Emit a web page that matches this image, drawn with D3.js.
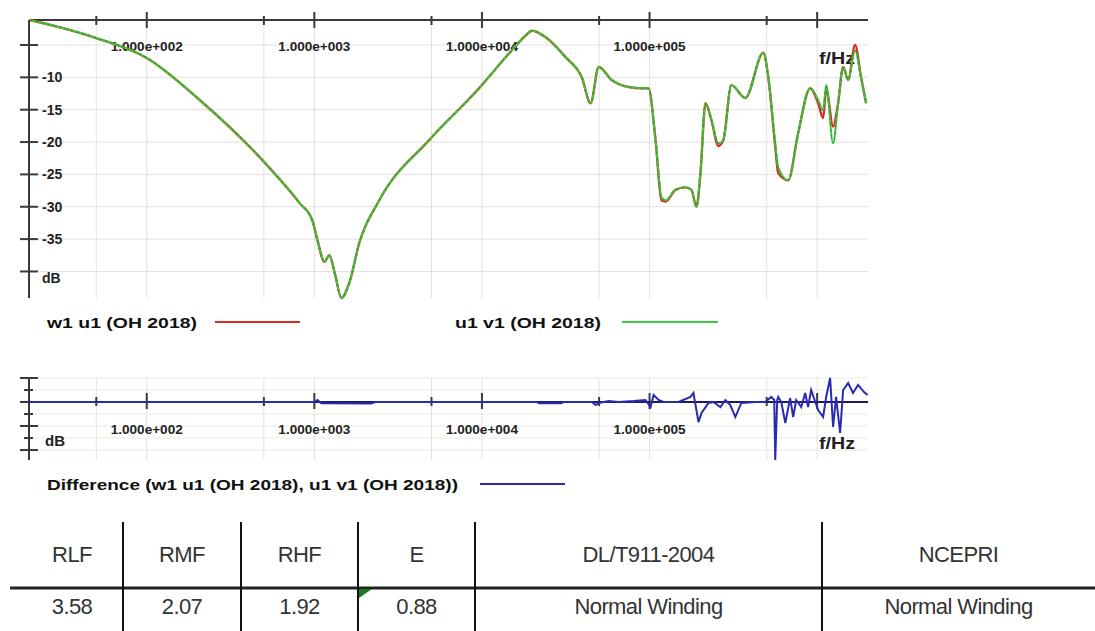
<!DOCTYPE html>
<html><head><meta charset="utf-8">
<script src="https://cdn.jsdelivr.net/npm/d3@7"></script>
<style>body{margin:0;background:#fff}svg{display:block}</style>
</head><body><svg id="c" width="1095" height="631"></svg>
<script>
// ---------- data ----------
const freqHz = [20,30,50,100,207,490,815,973,1044,1148,1228,1333,1449,1615,1853,2440,4840,9600,15100,18300,19900,24000,31600,39400,44500,49700,59400,75000,89600,98600,108600,117800,124500,142800,163800,177800,190500,201300,215600,234000,257500,275600,307600,372600,477200,511100,562300,585900,671800,770500,908400,1014000,1086000,1132000,1245000,1334000,1429000,1531000,1684000,1828000,1959000];
const u1v1 = [-1.14,-2.23,-3.93,-7.0,-13.5,-22.8,-29.4,-32.1,-35.2,-38.5,-37.5,-40.6,-44.1,-41.8,-35.6,-29.0,-19.7,-11.7,-5.8,-3.5,-2.8,-3.8,-6.9,-10.0,-14.0,-8.4,-10.4,-11.5,-11.7,-11.7,-19.7,-28.5,-29.0,-27.4,-27.0,-27.4,-30.0,-24.8,-14.0,-16.6,-20.2,-19.7,-11.2,-13.2,-6.2,-10.0,-20.2,-23.9,-25.9,-18.6,-11.7,-13.5,-15.1,-11.2,-20.2,-14.0,-8.4,-10.4,-5.8,-10.0,-14.0];
const w1u1 = [-1.14,-2.23,-3.93,-7.0,-13.5,-22.8,-29.4,-32.1,-35.2,-38.5,-37.5,-40.6,-44.1,-41.8,-35.6,-29.0,-19.7,-11.7,-5.8,-3.5,-2.8,-3.8,-6.9,-10.0,-14.0,-8.4,-10.4,-11.5,-11.7,-11.7,-19.7,-29.0,-29.2,-27.4,-27.0,-27.4,-30.0,-24.8,-14.0,-16.6,-20.6,-19.7,-11.2,-13.2,-6.2,-10.0,-20.7,-24.8,-25.9,-18.6,-11.7,-14.0,-16.3,-11.8,-17.6,-14.0,-8.4,-10.4,-5.0,-10.0,-14.0];
const diffFreq = [20,1000,1042,1101,2183,2306,21230,21830,29510,30760,43350,45190,47720,49700,57020,65340,80350,94660,101400,105700,113200,121200,148800,175400,182800,195900,204200,224600,240400,264800,283400,303400,325000,353000,427900,490000,532000,554500,562300,577800,585900,610900,645700,690200,719400,749900,803500,848700,883300,920700,1014000,1086000,1132000,1195000,1245000,1297000,1371000,1429000,1531000,1637000,1754000,1905000,2000000];
const diffDb = [0,0,0.17,-0.1,-0.12,0,0,-0.1,-0.1,0,0,0,-0.25,-0.08,0.08,0,0.08,0.17,-0.42,0.58,0.17,0,0,0.42,0.75,-1.67,-0.92,-0.08,0,-0.42,0.17,-0.25,-1.25,-0.08,0,0,0.42,0.17,-4.83,0.17,0.42,0,-1.75,0.33,-1.25,0.17,-0.42,0.75,-0.42,1.0,-0.67,-1.25,0.42,2.0,-2.08,0.42,-2.58,1.0,1.58,0.75,1.42,0.83,0.58];

const majorTicks = [1e2,1e3,1e4,1e5,1e6];
const majorLabels = ["1.000e+002","1.000e+003","1.000e+004","1.000e+005",""];
const minorTicks = [5e1,5e2,5e3,5e4,5e5];
const dbTicks = [-5,-10,-15,-20,-25,-30,-35,-40];
const dbLabels = ["","-10","-15","-20","-25","-30","-35","dB"];
const diffTicks = [2,1,0,-1,-2,-3,-4];
const seriesNames = ["w1 u1 (OH 2018)","u1 v1 (OH 2018)"];
const diffName = "Difference (w1 u1 (OH 2018), u1 v1 (OH 2018))";
const tableHeaders = ["RLF","RMF","RHF","E","DL/T911-2004","NCEPRI"];
const tableValues = ["3.58","2.07","1.92","0.88","Normal Winding","Normal Winding"];

// ---------- drawing ----------
const svg = d3.select("#c");
const FONT = "'Liberation Sans', Arial, sans-serif";
const x = d3.scaleLog().domain([20, 2e6]).range([29.6, 867.6]);
const y = d3.scaleLinear().domain([-1.14, -44.1]).range([20, 298]);
const yd = d3.scaleLinear().domain([2, -4.83]).range([378, 460]);
const gridX = majorTicks.concat(minorTicks);
const axisCol = "#3a3a3a", gridCol = "#e2e2e2";

// ===== top chart =====
const topG = svg.append("g");
topG.selectAll(".vg").data(gridX).join("line")
  .attr("x1", d=>x(d)).attr("x2", d=>x(d)).attr("y1", 20).attr("y2", 298)
  .attr("stroke", gridCol).attr("stroke-width", 1);
topG.selectAll(".hg").data(dbTicks).join("line")
  .attr("x1", 29).attr("x2", 868).attr("y1", d=>y(d)).attr("y2", d=>y(d))
  .attr("stroke", gridCol).attr("stroke-width", 1);
topG.append("line").attr("x1", 29).attr("x2", 868).attr("y1", 20).attr("y2", 20).attr("stroke", axisCol).attr("stroke-width", 2);
topG.append("line").attr("x1", 29).attr("x2", 29).attr("y1", 20).attr("y2", 298).attr("stroke", axisCol).attr("stroke-width", 2);
topG.selectAll(".mt").data(majorTicks).join("line")
  .attr("x1", d=>x(d)).attr("x2", d=>x(d)).attr("y1", 12).attr("y2", 28).attr("stroke", axisCol).attr("stroke-width", 2);
topG.selectAll(".nt").data(minorTicks).join("line")
  .attr("x1", d=>x(d)).attr("x2", d=>x(d)).attr("y1", 16).attr("y2", 25).attr("stroke", axisCol).attr("stroke-width", 2);
topG.selectAll(".yt").data(dbTicks).join("line")
  .attr("x1", 20).attr("x2", 38).attr("y1", d=>y(d)).attr("y2", d=>y(d)).attr("stroke", axisCol).attr("stroke-width", 2);
topG.selectAll(".xl").data(majorTicks.slice(0,4)).join("text")
  .attr("x", d=>x(d)-36).attr("y", 51)
  .attr("font-family", FONT).attr("font-size", 12).attr("font-weight", "bold").attr("fill", "#222")
  .attr("textLength", 72).attr("lengthAdjust", "spacingAndGlyphs")
  .text((d,i)=>majorLabels[i]);
topG.selectAll(".yl").data(dbTicks).join("text")
  .attr("x", 42).attr("y", (d,i)=>y(d)+5+(i===7?7:0)).attr("font-family", FONT).attr("font-size", 14)
  .attr("font-weight", "bold").attr("fill", "#222")
  .text((d,i)=>dbLabels[i]);
topG.append("text").attr("x", 819).attr("y", 64).attr("font-family", FONT).attr("font-size", 16)
  .attr("font-weight", "bold").attr("fill", "#222").attr("textLength", 36).attr("lengthAdjust", "spacingAndGlyphs").text("f/Hz");

const line = d3.line().x(d=>x(d[0])).y(d=>y(d[1])).curve(d3.curveMonotoneX);
topG.append("path").datum(freqHz.map((f,i)=>[f,w1u1[i]])).attr("d", line)
  .attr("fill", "none").attr("stroke", "#dd2a22").attr("stroke-width", 2.4);
topG.append("path").datum(freqHz.map((f,i)=>[f,u1v1[i]])).attr("d", line)
  .attr("fill", "none").attr("stroke", "#3ccc3c").attr("stroke-width", 2);
topG.append("path").datum(freqHz.map((f,i)=>[f,u1v1[i]])).attr("d", line)
  .attr("fill", "none").attr("stroke", "#2d4a2d").attr("stroke-width", 0.8).attr("stroke-dasharray", "3,3").attr("opacity", 0.55);

// legend
const leg = svg.append("g").attr("font-family", FONT).attr("font-weight", "bold").attr("font-size", 15).attr("fill", "#111");
leg.append("text").attr("x", 47).attr("y", 328).attr("textLength", 150).attr("lengthAdjust", "spacingAndGlyphs").text(seriesNames[0]);
leg.append("line").attr("x1", 215).attr("x2", 300).attr("y1", 322).attr("y2", 322).attr("stroke", "#dd2a22").attr("stroke-width", 2);
leg.append("text").attr("x", 455).attr("y", 328).attr("textLength", 146).attr("lengthAdjust", "spacingAndGlyphs").text(seriesNames[1]);
leg.append("line").attr("x1", 622).attr("x2", 718).attr("y1", 322).attr("y2", 322).attr("stroke", "#3ccc3c").attr("stroke-width", 2);

// ===== difference chart =====
const dg = svg.append("g");
dg.selectAll(".vg").data(gridX).join("line")
  .attr("x1", d=>x(d)).attr("x2", d=>x(d)).attr("y1", 378).attr("y2", 460)
  .attr("stroke", gridCol).attr("stroke-width", 1);
dg.selectAll(".hg").data(diffTicks).join("line")
  .attr("x1", 29).attr("x2", 868).attr("y1", d=>yd(d)).attr("y2", d=>yd(d))
  .attr("stroke", "#ecebdc").attr("stroke-width", 1);
dg.append("line").attr("x1", 29).attr("x2", 29).attr("y1", 378).attr("y2", 460).attr("stroke", axisCol).attr("stroke-width", 2);
dg.selectAll(".yt").data(diffTicks).join("line")
  .attr("x1", (d,i)=> i%2===0 ? 20 : 24).attr("x2", (d,i)=> i%2===0 ? 38 : 33)
  .attr("y1", d=>yd(d)).attr("y2", d=>yd(d)).attr("stroke", axisCol).attr("stroke-width", 2);
dg.selectAll(".mt").data(majorTicks).join("line")
  .attr("x1", d=>x(d)).attr("x2", d=>x(d)).attr("y1", yd(0)-9).attr("y2", yd(0)+7).attr("stroke", axisCol).attr("stroke-width", 2);
dg.selectAll(".nt").data(minorTicks).join("line")
  .attr("x1", d=>x(d)).attr("x2", d=>x(d)).attr("y1", yd(0)-5).attr("y2", yd(0)+4).attr("stroke", axisCol).attr("stroke-width", 2);
dg.append("line").attr("x1", 29).attr("x2", 868).attr("y1", yd(0)).attr("y2", yd(0)).attr("stroke", "#1c1c5a").attr("stroke-width", 2);
dg.selectAll(".xl").data(majorTicks.slice(0,4)).join("text")
  .attr("x", d=>x(d)-36).attr("y", 434)
  .attr("font-family", FONT).attr("font-size", 12).attr("font-weight", "bold").attr("fill", "#222")
  .attr("textLength", 72).attr("lengthAdjust", "spacingAndGlyphs")
  .text((d,i)=>majorLabels[i]);
dg.append("text").attr("x", 45).attr("y", 446).attr("font-family", FONT).attr("font-size", 15)
  .attr("font-weight", "bold").attr("fill", "#222").text("dB");
dg.append("text").attr("x", 819).attr("y", 449).attr("font-family", FONT).attr("font-size", 16)
  .attr("font-weight", "bold").attr("fill", "#222").attr("textLength", 36).attr("lengthAdjust", "spacingAndGlyphs").text("f/Hz");
const dline = d3.line().x(d=>x(d[0])).y(d=>yd(d[1]));
dg.append("path").datum(diffFreq.map((f,i)=>[f,diffDb[i]])).attr("d", dline)
  .attr("fill", "none").attr("stroke", "#2b2bb0").attr("stroke-width", 2);

const dleg = svg.append("g").attr("font-family", FONT).attr("font-weight", "bold").attr("font-size", 15).attr("fill", "#111");
dleg.append("text").attr("x", 47).attr("y", 490).attr("textLength", 411).attr("lengthAdjust", "spacingAndGlyphs").text(diffName);
dleg.append("line").attr("x1", 480).attr("x2", 565).attr("y1", 484).attr("y2", 484).attr("stroke", "#2b2bb0").attr("stroke-width", 2);

// ===== table =====
const colEdges = [21, 123, 241, 358, 475, 822, 1095];
const tb = svg.append("g");
tb.append("line").attr("x1", 10).attr("x2", 1095).attr("y1", 588).attr("y2", 588).attr("stroke", "#222").attr("stroke-width", 3);
tb.selectAll(".vl").data(colEdges.slice(1, 6)).join("line")
  .attr("x1", d=>d).attr("x2", d=>d).attr("y1", 522).attr("y2", 631).attr("stroke", "#111").attr("stroke-width", 2);
tb.append("path").attr("d", "M359,589 L372,589 L359,598 Z").attr("fill", "#1e7a1e");
const centers = tableHeaders.map((h,i)=>(colEdges[i]+colEdges[i+1])/2);
tb.selectAll(".th").data(tableHeaders).join("text")
  .attr("x", (d,i)=>centers[i]).attr("y", 562).attr("text-anchor", "middle")
  .attr("font-family", FONT).attr("font-size", 22).attr("letter-spacing", "-0.6").attr("fill", "#333").text(d=>d);
tb.selectAll(".td").data(tableValues).join("text")
  .attr("x", (d,i)=>centers[i]).attr("y", 614).attr("text-anchor", "middle")
  .attr("font-family", FONT).attr("font-size", 22).attr("letter-spacing", "-0.6").attr("fill", "#333").text(d=>d);
</script>
</body></html>
